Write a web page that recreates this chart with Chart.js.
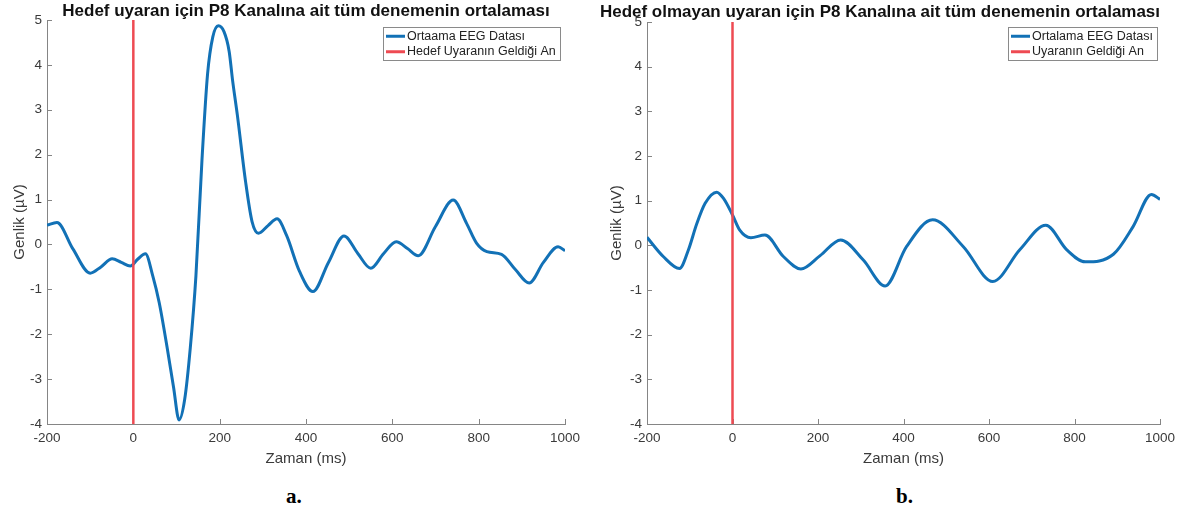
<!DOCTYPE html>
<html>
<head>
<meta charset="utf-8">
<script src="https://cdn.jsdelivr.net/npm/chart.js@4"></script>
<style>
  html, body { margin: 0; padding: 0; background: #fff; }
  body { width: 1185px; height: 512px; position: relative; overflow: hidden; }
  .panel { position: absolute; top: 0; height: 480px; }
  #pa { left: 0; width: 590px; }
  #pb { left: 600px; width: 585px; }
  .tag { position: absolute; top: 484px; font: bold 21px "Liberation Serif", "Times New Roman", serif; color: #000; }
</style>
</head>
<body>
<div class="panel" id="pa"><canvas id="ca"></canvas></div>
<div class="panel" id="pb"><canvas id="cb"></canvas></div>
<div class="tag" style="left:286px">a.</div>
<div class="tag" style="left:896px">b.</div>
<script>
// Time axis (ms) and averaged P8 amplitude (µV) — target stimulus
const timeA = [-200, -177, -140, -100, -75, -49, -28, -7, 10, 28, 45, 60, 78, 93, 106, 119, 132, 145, 159, 172,
               184, 197, 210, 222, 230, 241, 260, 275, 290, 312, 333, 355, 385, 416, 452, 488, 520, 550, 580, 609, 635,
               660, 700, 741, 772, 795, 819, 853, 885, 917, 950, 984, 1000];
const eegA  = [0.43, 0.49, -0.1, -0.64, -0.5, -0.32, -0.4, -0.48, -0.33, -0.21, -0.7, -1.3, -2.28, -3.17, -3.91, -3.45, -2.3, -0.7, 1.88, 3.8,
               4.62, 4.87, 4.74, 4.3, 3.65, 2.88, 1.4, 0.51, 0.25, 0.42, 0.57, 0.2, -0.6, -1.05, -0.4, 0.19, -0.2, -0.53, -0.2, 0.06, -0.09,
               -0.25, 0.4, 0.99, 0.47, 0.03, -0.16, -0.22, -0.56, -0.86, -0.4, -0.05, -0.14];

// Non-target stimulus
const timeB = [-200, -162, -124, -103, -84, -64, -37, -21, 0, 17, 43, 76, 119, 160, 205, 253, 306, 357, 407, 468, 540, 609,
               672, 733, 782, 825, 891, 937, 980, 1000];
const eegB  = [0.18, -0.25, -0.52, -0.1, 0.47, 0.94, 1.19, 1.05, 0.68, 0.34, 0.17, 0.23, -0.25, -0.53, -0.23, 0.12, -0.33, -0.91, -0.03, 0.57, -0.03, -0.81,
               -0.1, 0.45, -0.1, -0.37, -0.2, 0.42, 1.14, 1.03];

// Stimulus onset marker
const onsetTime = 0;
const ampRange = [-4, 5];
const timeRange = [-200, 1000];
const xTicks = [-200, 0, 200, 400, 600, 800, 1000];
const yTicks = [-4, -3, -2, -1, 0, 1, 2, 3, 4, 5];

const titleA = 'Hedef uyaran için P8 Kanalına ait tüm denemenin ortalaması';
const titleB = 'Hedef olmayan uyaran için P8 Kanalına ait tüm denemenin ortalaması';
const legendA = ['Ortaama EEG Datası', 'Hedef Uyaranın Geldiği An'];
const legendB = ['Ortalama EEG Datası', 'Uyaranın Geldiği An'];
const xLabel = 'Zaman (ms)';
const yLabel = 'Genlik (µV)';

const FONT = '"Liberation Sans", Arial, Helvetica, sans-serif';
const BLUE = '#1271b6';
const RED = '#ee4a52';
const AXIS = '#858585';
const TXT = '#3a3a3a';

Chart.defaults.font.family = FONT;

// Small tick marks pointing into the plot area
const innerTicks = {
  id: 'innerTicks',
  beforeDatasetsDraw(chart) {
    const { ctx, chartArea: a, scales: { x, y } } = chart;
    ctx.save();
    ctx.strokeStyle = AXIS;
    ctx.lineWidth = 1;
    ctx.beginPath();
    x.ticks.forEach(t => {
      const px = Math.round(x.getPixelForValue(t.value)) + 0.5;
      ctx.moveTo(px, a.bottom); ctx.lineTo(px, a.bottom - 5);
    });
    y.ticks.forEach(t => {
      const py = Math.round(y.getPixelForValue(t.value)) + 0.5;
      ctx.moveTo(a.left, py); ctx.lineTo(a.left + 5, py);
    });
    ctx.stroke();
    ctx.restore();
  }
};

// Boxed legend in the upper right corner of the plot area
const boxLegend = {
  id: 'boxLegend',
  afterDraw(chart, args, opts) {
    const { ctx, chartArea: a } = chart;
    const items = chart.data.datasets;
    ctx.save();
    ctx.font = '12.5px ' + FONT;
    const textW = Math.max(...items.map(d => ctx.measureText(d.label).width));
    const sample = 19, padL = 3, gap = 2, padR = 4, rowH = 15.5, padV = 1;
    const w = Math.round(padL + sample + gap + textW + padR);
    const h = Math.round(padV * 2 + rowH * items.length);
    const x0 = Math.round(a.right - opts.right - w);
    const y0 = Math.round(a.top + opts.top);
    ctx.fillStyle = '#fff';
    ctx.fillRect(x0, y0, w, h);
    ctx.strokeStyle = '#8a8a8a';
    ctx.lineWidth = 1;
    ctx.strokeRect(x0 + 0.5, y0 + 0.5, w, h);
    items.forEach((d, i) => {
      const cy = y0 + padV + rowH * (i + 0.5) + 0.5;
      ctx.strokeStyle = d.borderColor;
      ctx.lineWidth = 3;
      ctx.beginPath();
      ctx.moveTo(x0 + padL, cy);
      ctx.lineTo(x0 + padL + sample, cy);
      ctx.stroke();
      ctx.fillStyle = '#222';
      ctx.textBaseline = 'middle';
      ctx.fillText(d.label, x0 + padL + sample + gap, cy);
    });
    ctx.restore();
  }
};

function buildChart(canvasId, times, values, title, labels, opt) {
  const curve = times.map((t, i) => ({ x: t, y: values[i] }));
  const onset = [{ x: onsetTime, y: ampRange[0] }, { x: onsetTime, y: ampRange[1] }];
  return new Chart(document.getElementById(canvasId), {
    type: 'line',
    data: {
      datasets: [
        { label: labels[0], data: curve, borderColor: BLUE, borderWidth: 3, pointRadius: 0,
          cubicInterpolationMode: 'monotone', order: 1 },
        { label: labels[1], data: onset, borderColor: RED, borderWidth: 2.5, pointRadius: 0,
          tension: 0, order: 0 }
      ]
    },
    options: {
      responsive: true,
      maintainAspectRatio: false,
      animation: false,
      events: [],
      layout: { padding: { left: 0, right: 25, top: 0, bottom: 0 } },
      plugins: {
        legend: { display: false },
        tooltip: { enabled: false },
        title: {
          display: true, text: title, color: '#111', fullSize: opt.titleFull,
          font: { size: 17, weight: 'bold', family: FONT, lineHeight: 1.0 },
          padding: opt.titlePad
        },
        boxLegend: opt.legend
      },
      scales: {
        x: {
          type: 'linear', min: timeRange[0], max: timeRange[1],
          afterBuildTicks: s => { s.ticks = xTicks.map(v => ({ value: v })); },
          grid: { drawOnChartArea: false, drawTicks: false },
          border: { color: AXIS, width: 1 },
          ticks: { padding: 6, color: TXT, font: { size: 13.5 }, maxRotation: 0, autoSkip: false,
                   callback: v => String(v) },
          title: { display: true, text: xLabel, color: TXT, font: { size: 15 }, padding: { top: 0, bottom: 12 } },
          afterFit: s => { s.height = 56; }
        },
        y: {
          type: 'linear', min: ampRange[0], max: ampRange[1],
          afterBuildTicks: s => { s.ticks = yTicks.map(v => ({ value: v })); },
          grid: { drawOnChartArea: false, drawTicks: false },
          border: { color: AXIS, width: 1 },
          ticks: { padding: 5, color: TXT, font: { size: 13.5 }, callback: v => String(v) },
          title: { display: true, text: yLabel, color: TXT, font: { size: 15 }, padding: { top: opt.yTitlePad, bottom: 0 } },
          afterFit: s => { s.width = 47; }
        }
      }
    },
    plugins: [innerTicks, boxLegend]
  });
}

buildChart('ca', timeA, eegA, titleA, legendA, {
  titleFull: false, titlePad: { top: 2.5, bottom: 0.5 }, yTitlePad: 11, legend: { right: 5, top: 7 }
});
buildChart('cb', timeB, eegB, titleB, legendB, {
  titleFull: true, titlePad: { top: 3.5, bottom: 1.5 }, yTitlePad: 8, legend: { right: 3, top: 5 }
});
</script>
</body>
</html>
